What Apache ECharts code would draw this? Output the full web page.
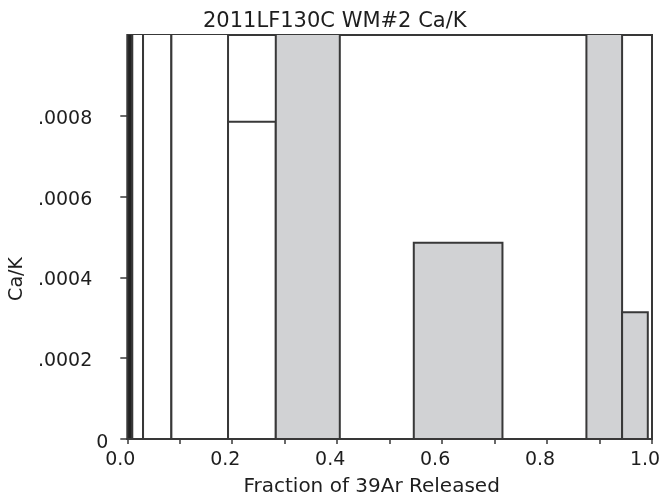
<!DOCTYPE html>
<html>
<head>
<meta charset="utf-8">
<script src="https://cdn.jsdelivr.net/npm/echarts@6/dist/echarts.min.js"></script>
<style>
  html, body { margin: 0; padding: 0; background: #fff; }
  #chart { width: 666px; height: 502px; }
</style>
</head>
<body>
<div id="chart"></div>
<script>
// Cumulative fraction of 39Ar released at each step boundary
var stepEdges = [0, 0.0095, 0.030, 0.084, 0.192, 0.283, 0.405, 0.546, 0.715, 0.875, 0.943, 0.992, 1.0];
// Ca/K for each heating step (steps above 0.001 run off the top of the plot)
var caK = [0.0015, 0.0015, 0.0015, 0.0015, 0.000785, 0.0015, 0, 0.000486, 0, 0.0015, 0.000314, 0];
// Step shading: 'dark', 'open' or 'shaded'
var stepShade = ['dark', 'open', 'open', 'open', 'open', 'shaded', 'open', 'shaded', 'open', 'shaded', 'shaded', 'open'];
// Axis tick values
var xTicks = [0, 0.2, 0.4, 0.6, 0.8, 1.0];
var yTicks = [0, 0.0002, 0.0004, 0.0006, 0.0008];

var fills = { dark: '#222222', open: '#ffffff', shaded: '#d1d2d4' };
var ink = '#383838';
var font = 'DejaVu Sans';

var steps = caK.map(function (v, i) {
  return [stepEdges[i], stepEdges[i + 1], v, stepShade[i]];
});

var chart = echarts.init(document.getElementById('chart'));
chart.setOption({
  animation: false,
  backgroundColor: '#fff',
  title: {
    text: '2011LF130C WM#2 Ca/K',
    left: 198,
    top: 6,
    textStyle: { fontFamily: font, fontSize: 21, fontWeight: 'normal', color: '#1e1e1e' }
  },
  grid: {
    left: 127, right: 14, top: 35, bottom: 61,
    show: true, borderColor: ink, borderWidth: 2, backgroundColor: 'transparent'
  },
  xAxis: {
    type: 'value', min: 0, max: 1, interval: 0.1,
    name: 'Fraction of 39Ar Released',
    nameLocation: 'middle', nameGap: 38,
    nameTextStyle: { fontFamily: font, fontSize: 20, color: '#1e1e1e', padding: [0, 36, 0, 0] },
    axisLine: { show: true, onZero: false, lineStyle: { color: ink, width: 2 } },
    axisTick: { show: true, inside: false, length: 5, lineStyle: { color: ink, width: 1.5 } },
    splitLine: { show: false },
    axisLabel: {
      margin: 12,
      fontFamily: font, fontSize: 19, color: '#1e1e1e',
      padding: [0, 14, 0, 0],
      formatter: function (v) {
        var hit = xTicks.some(function (t) { return Math.abs(t - v) < 1e-9; });
        return hit ? v.toFixed(1) : '';
      }
    }
  },
  yAxis: {
    type: 'value', min: 0, max: 0.001, interval: 0.0002,
    name: 'Ca/K',
    nameLocation: 'middle', nameRotate: 90, nameGap: 100,
    nameTextStyle: { fontFamily: font, fontSize: 19, color: '#1e1e1e', padding: [0, 84, 0, 0] },
    axisLine: { show: true, lineStyle: { color: ink, width: 2 } },
    axisTick: { show: true, inside: false, length: 7, lineStyle: { color: ink, width: 1.5 } },
    splitLine: { show: false },
    axisLabel: {
      margin: 19,
      showMaxLabel: false,
      fontFamily: font, fontSize: 19, color: '#1e1e1e',
      formatter: function (v) {
        var hit = yTicks.some(function (t) { return Math.abs(t - v) < 1e-12; });
        if (!hit) return '';
        if (v === 0) return '{z|0}';
        return '{n|' + v.toFixed(4).replace(/^0/, '') + '}';
      },
      rich: {
        z: { fontFamily: font, fontSize: 19, color: '#1e1e1e', padding: [8, 0, 0, 0] },
        n: { fontFamily: font, fontSize: 19, color: '#1e1e1e', padding: [6, 16, 0, 0] }
      }
    }
  },
  series: [{
    type: 'custom',
    clip: true,
    data: steps,
    encode: { x: [0, 1], y: 2 },
    renderItem: function (params, api) {
      var p0 = api.coord([api.value(0), 0]);
      var p1 = api.coord([api.value(1), api.value(2)]);
      var cs = params.coordSys;
      var rect = echarts.graphic.clipRectByRect(
        { x: p0[0], y: p1[1], width: p1[0] - p0[0], height: p0[1] - p1[1] },
        { x: cs.x, y: cs.y - 1, width: cs.width, height: cs.height + 1 }
      );
      if (!rect) return null;
      var shade = steps[params.dataIndex][3];
      return {
        type: 'rect',
        shape: rect,
        style: { fill: fills[shade], stroke: ink, lineWidth: 2 }
      };
    }
  }]
});
</script>
</body>
</html>
